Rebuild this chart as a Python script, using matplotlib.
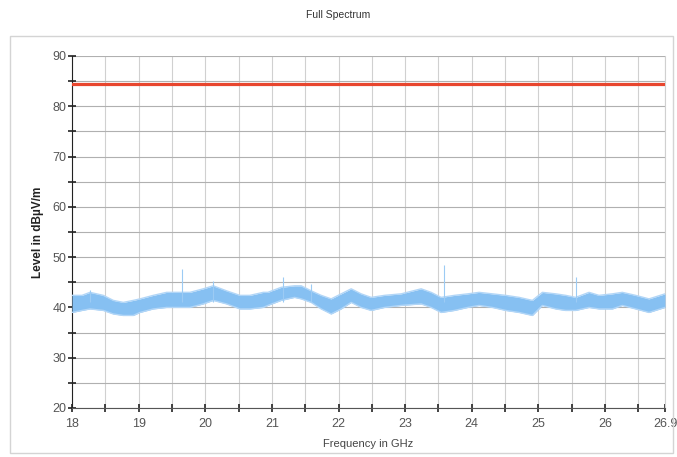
import matplotlib
matplotlib.use('Agg')
import matplotlib.pyplot as plt
import matplotlib.patches as mpatches
import numpy as np

plt.rcParams['font.family'] = ['Liberation Sans', 'DejaVu Sans']

freq  = [18.00, 18.15, 18.27, 18.47, 18.62, 18.77, 18.92, 19.02, 19.22, 19.42, 19.60, 19.77,
         19.97, 20.12, 20.32, 20.52, 20.67, 20.87, 20.94, 21.14, 21.34, 21.44, 21.59, 21.74,
         21.89, 22.04, 22.19, 22.34, 22.49, 22.69, 22.94, 23.24, 23.39, 23.54, 23.74, 23.94,
         24.11, 24.31, 24.51, 24.71, 24.91, 25.06, 25.26, 25.41, 25.56, 25.76, 25.91, 26.11,
         26.26, 26.46, 26.66, 26.90]
upper = [42.4, 42.4, 43.0, 42.4, 41.4, 41.0, 41.4, 41.7, 42.4, 43.0, 43.0, 43.0,
         43.7, 44.3, 43.3, 42.4, 42.4, 43.0, 43.0, 44.0, 44.3, 44.3, 43.3, 42.4,
         41.7, 42.7, 43.7, 42.7, 42.0, 42.4, 42.7, 43.7, 43.0, 42.0, 42.4, 42.7,
         43.0, 42.7, 42.4, 42.0, 41.4, 43.0, 42.7, 42.4, 42.0, 43.0, 42.4, 42.7,
         43.0, 42.4, 41.7, 42.7]
lower = [39.0, 39.4, 39.7, 39.4, 38.7, 38.4, 38.4, 39.0, 39.7, 40.0, 40.0, 40.0,
         40.7, 41.4, 40.7, 39.7, 39.7, 40.0, 40.4, 41.4, 42.0, 41.7, 41.0, 39.7,
         38.7, 39.7, 41.0, 40.0, 39.4, 40.0, 40.4, 40.7, 40.0, 39.0, 39.4, 40.0,
         40.4, 40.0, 39.4, 39.0, 38.4, 40.4, 39.7, 39.4, 39.4, 40.0, 39.7, 39.7,
         40.4, 39.7, 39.0, 40.0]

# narrow spikes above the band (GHz, peak level)
spike_f = [18.27, 19.65, 20.12, 21.16, 21.59, 23.59, 25.56]
spike_v = [43.4, 47.6, 45.3, 46.0, 44.7, 48.5, 46.0]

limit_level = 84.5

xticks = [18, 19, 20, 21, 22, 23, 24, 25, 26, 26.9]
xticklabels = ['18', '19', '20', '21', '22', '23', '24', '25', '26', '26.9']

fig = plt.figure(figsize=(6.77, 4.57), dpi=100)

# light outer frame
fig.patches.append(mpatches.Rectangle((10/677, (457-453)/457), 663/677, 417/457,
                                      transform=fig.transFigure, fill=False,
                                      edgecolor='#d4d4d4', linewidth=1.0))

ax = fig.add_axes([72/677, 49/457, 593/677, 352/457])

ax.fill_between(freq, lower, upper, color='#86c0f2', linewidth=0, zorder=3)
ax.plot(freq, upper, color='#b2d6f7', linewidth=1.0, zorder=3)
ax.plot(freq, lower, color='#b2d6f7', linewidth=1.0, zorder=3)
ax.vlines(spike_f, [41]*len(spike_f), spike_v, color='#9ccbf4', linewidth=0.8, zorder=3)
ax.axhline(limit_level, color='#e8462e', linewidth=2.3, zorder=4)

ax.set_xlim(18, 26.9)
ax.set_ylim(20, 90)
ax.set_xticks(xticks)
ax.set_xticklabels(xticklabels)
ax.set_xticks(np.arange(18.5, 26.9, 1.0), minor=True)
ax.set_yticks(range(20, 91, 10))
ax.set_yticks(range(25, 90, 10), minor=True)

ax.grid(True, which='both', axis='x', color='#d0d0d0', linewidth=0.8)
ax.grid(True, which='both', axis='y', color='#b0b0b0', linewidth=0.8)
ax.set_axisbelow(True)

ax.spines['top'].set_visible(False)
ax.spines['right'].set_color('#d0d0d0')
ax.spines['left'].set_color('#222222')
ax.spines['bottom'].set_color('#555555')
ax.tick_params(axis='both', which='both', direction='inout', length=6, width=1.2,
               colors='#222222', labelcolor='#555555', labelsize=9)
ax.tick_params(axis='y', pad=1)
ax.tick_params(axis='x', pad=4)

ax.set_ylabel('Level in dB\u00b5V/m', fontsize=8.5, fontweight='bold', color='#222222', labelpad=6)
ax.set_xlabel('Frequency in GHz', fontsize=8, color='#444444', labelpad=7)
fig.text(0.5, 1 - 15/457, 'Full Spectrum', ha='center', va='center', fontsize=7.5, color='#333333')

fig.savefig('out.png', dpi=100)
